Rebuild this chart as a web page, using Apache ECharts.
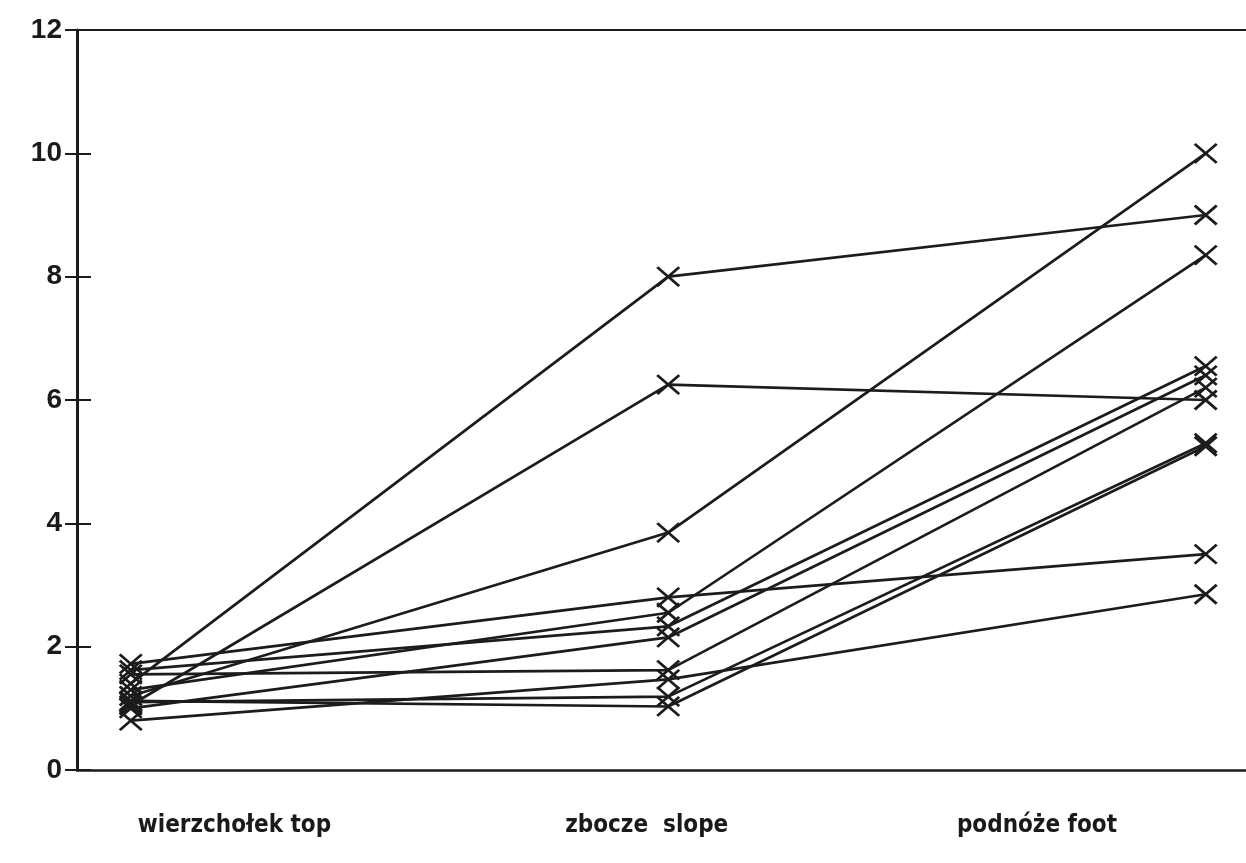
<!DOCTYPE html>
<html>
<head>
<meta charset="utf-8">
<script src="https://cdn.jsdelivr.net/npm/echarts@6/dist/echarts.min.js"></script>
<style>
html,body{margin:0;padding:0;background:#fff;}
#c{width:1246px;height:863px;}
</style>
</head>
<body>
<div id="c"></div>
<script>
// categories (x positions 0,1,2)
const categories = ['wierzchołek top', 'zbocze  slope', 'podnóże foot'];
const yTicks = [0, 2, 4, 6, 8, 10, 12];

// one small array per plotted line: values at top, slope, foot
const seriesA = [1.40, 8.00, 9.00];
const seriesB = [1.05, 6.25, 6.00];
const seriesC = [1.20, 3.85, 10.00];
const seriesD = [1.72, 2.80, 3.50];
const seriesE = [1.30, 2.55, 8.35];
const seriesF = [1.62, 2.33, 6.55];
const seriesG = [1.00, 2.15, 6.40];
const seriesH = [1.55, 1.62, 6.20];
const seriesI = [0.80, 1.47, 2.85];
const seriesJ = [1.10, 1.19, 5.30];
const seriesK = [1.12, 1.03, 5.25];

const allSeries = [seriesA, seriesB, seriesC, seriesD, seriesE, seriesF, seriesG, seriesH, seriesI, seriesJ, seriesK];

const ink = '#1c1c1c';
const crossPath = 'path://M0,0L22,19M22,0L0,19';
const labelPos = [0.193, 0.96, 1.686];

const chart = echarts.init(document.getElementById('c'), null, {renderer: 'canvas'});

const option = {
  backgroundColor: '#ffffff',
  animation: false,
  grid: {
    left: 77, right: 0, top: 30, bottom: 93,
    show: false
  },
  xAxis: [
    {
      type: 'value',
      min: -0.1, max: 2.075,
      splitLine: {show: false},
      axisLine: {show: true, onZero: false, lineStyle: {color: ink, width: 2.5}},
      axisTick: {show: false},
      axisLabel: {
        show: true,
        customValues: labelPos,
        formatter: function (v) {
          let best = 0, d = 1e9;
          labelPos.forEach(function (p, i) { if (Math.abs(p - v) < d) { d = Math.abs(p - v); best = i; } });
          return categories[best];
        },
        margin: 44,
        color: '#1a1a1a',
        fontFamily: '"Liberation Sans Narrow", "DejaVu Sans Condensed", "Liberation Sans", Arial, sans-serif',
        fontWeight: 'bold',
        fontSize: 24
      }
    },
    {
      type: 'value', position: 'top',
      min: -0.1, max: 2.075,
      splitLine: {show: false},
      axisLine: {show: true, onZero: false, lineStyle: {color: ink, width: 2}},
      axisTick: {show: false},
      axisLabel: {show: false}
    }
  ],
  yAxis: [
    {
      type: 'value', min: 0, max: 12, interval: 2,
      splitLine: {show: false},
      axisLine: {show: true, onZero: false, lineStyle: {color: ink, width: 3}},
      axisTick: {show: true, length: 12, lineStyle: {color: ink, width: 2}},
      axisLabel: {
        margin: 15,
        color: '#1a1a1a',
        fontFamily: '"Liberation Sans", Arial, sans-serif',
        fontWeight: 'bold',
        fontSize: 28,
        formatter: function (v) { return yTicks.indexOf(v) >= 0 ? String(v) : ''; }
      }
    },
    {
      type: 'value', min: 0, max: 12, interval: 2, position: 'left',
      splitLine: {show: false},
      axisLine: {show: false, onZero: false},
      axisTick: {show: true, inside: true, length: 14, lineStyle: {color: ink, width: 2}},
      axisLabel: {show: false}
    }
  ],
  series: allSeries.map(function (arr) {
    return {
      type: 'line',
      data: arr.map(function (v, i) { return [i, v]; }),
      symbol: crossPath,
      symbolSize: [22, 19],
      symbolKeepAspect: false,
      showAllSymbol: true,
      lineStyle: {color: ink, width: 2.7},
      itemStyle: {color: 'rgba(0,0,0,0)', borderColor: ink, borderWidth: 2.7},
      emphasis: {disabled: true}
    };
  })
};

chart.setOption(option);
</script>
</body>
</html>
